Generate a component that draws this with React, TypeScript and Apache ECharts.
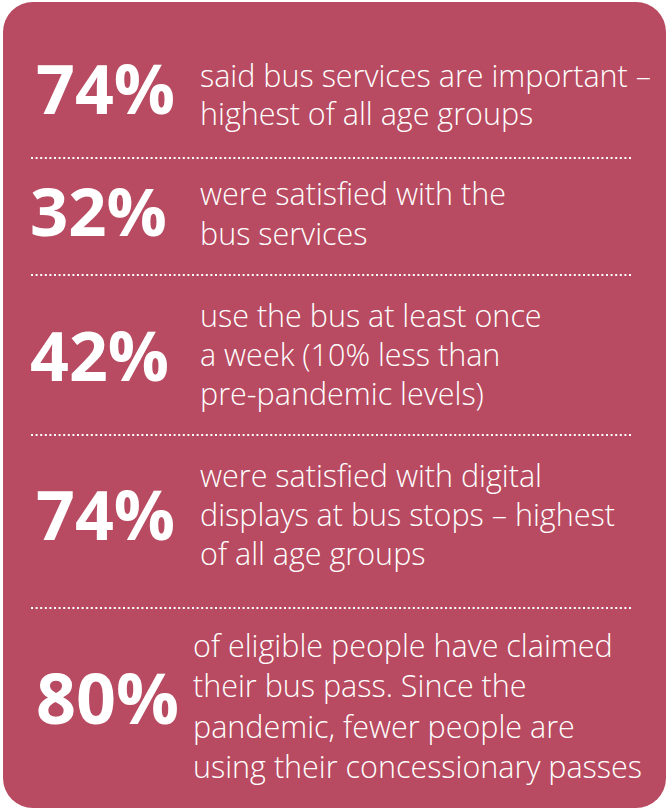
import React, { useEffect, useRef } from "react";
import * as echarts from "echarts";

const stats = ["74%", "32%", "42%", "74%", "80%"];
const descriptions = [
  ["said bus services are important –", "highest of all age groups"],
  ["were satisfied with the", "bus services"],
  ["use the bus at least once", "a week (10% less than", "pre-pandemic levels)"],
  ["were satisfied with digital", "displays at bus stops – highest", "of all age groups"],
  ["of eligible people have claimed", "their bus pass. Since the", "pandemic, fewer people are", "using their concessionary passes"],
];

const rowCenters = [87, 210, 354, 513, 697];
const statX = [36, 30, 30, 36, 36];
const statSize = [68, 67, 68, 68, 70];
const descX = [200, 200, 200, 200, 193];
const descTop = [75, 193, 315, 475, 645];
const lineGap = [38, 40, 39, 39, 40.3];
const dividers = [158, 275, 435, 608];

const BG = "#b84b61";

export default function App() {
  const ref = useRef<HTMLDivElement>(null);
  useEffect(() => {
    document.body.style.margin = "0";
    const chart = echarts.init(ref.current!, null, { renderer: "svg" });
    const elements: any[] = [
      {
        type: "rect",
        shape: { x: 3, y: 2, width: 663, height: 806, r: 30 },
        style: { fill: BG },
      },
    ];
    stats.forEach((s, i) => {
      elements.push({
        type: "text",
        x: statX[i],
        y: rowCenters[i],
        style: {
          text: s,
          fill: "#ffffff",
          font: `bold ${statSize[i]}px "Open Sans"`,
          textVerticalAlign: "middle",
          textAlign: "left",
        },
      });
      descriptions[i].forEach((line, j) => {
        elements.push({
          type: "text",
          x: descX[i],
          y: descTop[i] + j * lineGap[i],
          style: {
            text: line,
            fill: "#ffffff",
            font: `300 30.5px "Open Sans"`,
            textVerticalAlign: "middle",
            textAlign: "left",
          },
        });
      });
    });
    dividers.forEach((y) => {
      elements.push({
        type: "line",
        shape: { x1: 31, y1: y, x2: 633, y2: y },
        style: { stroke: "#ffffff", lineWidth: 2, lineDash: [2, 2.6] },
      });
    });
    chart.setOption({ animation: false, graphic: { elements } });
    return () => chart.dispose();
  }, []);
  return <div ref={ref} style={{ width: 667, height: 810 }} />;
}
